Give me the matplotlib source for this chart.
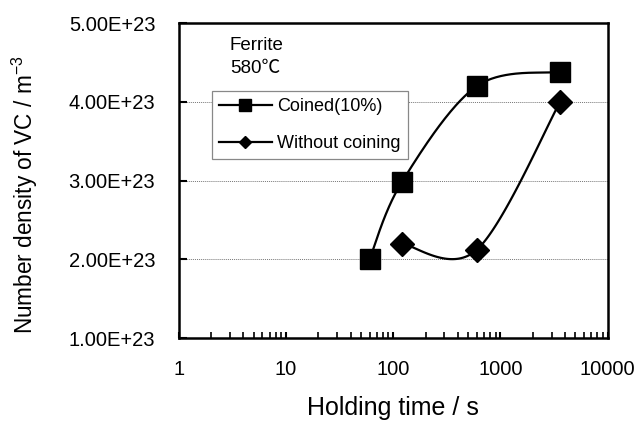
import matplotlib.pyplot as plt
from matplotlib.lines import Line2D
from matplotlib.ticker import LogLocator, FixedLocator, NullLocator
import numpy as np

plt.rcParams['font.family'] = ['Liberation Sans', 'DejaVu Sans']

coined_t = [60, 120, 600, 3600]
coined_n = [2.00e23, 2.98e23, 4.20e23, 4.38e23]
plain_t = [120, 600, 3600]
plain_n = [2.20e23, 2.12e23, 4.00e23]

y_ticks = [1e23, 2e23, 3e23, 4e23, 5e23]
y_labels = ['1.00E+23', '2.00E+23', '3.00E+23', '4.00E+23', '5.00E+23']
x_ticks = [1, 10, 100, 1000, 10000]
x_labels = ['1', '10', '100', '1000', '10000']


def smooth(xs, ys, n=60):
    # Excel-style smoothed line (Catmull-Rom bezier) in log-x space
    px = np.log10(np.array(xs, float))
    py = np.array(ys, float)
    P = np.column_stack([px, py])
    out = []
    for i in range(len(P) - 1):
        p0 = P[i - 1] if i > 0 else P[i]
        p1 = P[i]
        p2 = P[i + 1]
        p3 = P[i + 2] if i + 2 < len(P) else P[i + 1]
        c1 = p1 + (p2 - p0) / 6
        c2 = p2 - (p3 - p1) / 6
        t = np.linspace(0, 1, n)[:, None]
        seg = ((1 - t) ** 3) * p1 + 3 * ((1 - t) ** 2) * t * c1 + 3 * (1 - t) * t ** 2 * c2 + t ** 3 * p2
        out.append(seg if i == 0 else seg[1:])
    c = np.vstack(out)
    return 10 ** c[:, 0], c[:, 1]


fig = plt.figure(figsize=(6.39, 4.21), dpi=100)
ax = fig.add_axes([0.280, 0.197, 0.671, 0.748])

sx, sy = smooth(coined_t, coined_n)
ax.plot(sx, sy, color='black', lw=1.6, zorder=3)
ax.plot(coined_t, coined_n, ls='none', marker='s', ms=14, color='black', zorder=4)
sx, sy = smooth(plain_t, plain_n)
ax.plot(sx, sy, color='black', lw=1.6, zorder=3)
ax.plot(plain_t, plain_n, ls='none', marker='D', ms=12.5, color='black', zorder=4)

ax.set_xscale('log')
ax.set_xlim(1, 10000)
ax.set_ylim(1e23, 5e23)
ax.xaxis.set_major_locator(FixedLocator(x_ticks))
ax.set_xticklabels(x_labels)
ax.xaxis.set_minor_locator(LogLocator(base=10, subs=np.arange(2, 10)))
ax.set_yticks(y_ticks)
ax.set_yticklabels(y_labels)
ax.yaxis.set_minor_locator(NullLocator())

ax.tick_params(axis='y', which='major', direction='in', length=6, width=1.5,
               labelsize=14.5, pad=17)
ax.tick_params(axis='x', which='major', direction='in', length=4, width=1.5,
               labelsize=14.5, pad=16)
ax.tick_params(axis='x', which='minor', direction='in', length=4, width=1.2)
for s in ax.spines.values():
    s.set_linewidth(1.8)

for v in y_ticks[1:-1]:
    ax.axhline(v, color='#777777', lw=0.7, ls=(0, (1, 1)), zorder=1)

ax.set_xlabel('Holding time / s', fontsize=18, labelpad=12)
ax.set_ylabel('Number density of VC / m$^{\\mathregular{-3}}$', fontsize=16.3)
ax.yaxis.set_label_coords(-0.325, 0.455)

ax.text(0.119, 0.955, 'Ferrite\n580\u2103', transform=ax.transAxes, fontsize=13.5,
        va='top', ha='left', linespacing=1.4,
        family=['Liberation Sans', 'Noto Sans CJK JP', 'DejaVu Sans'])

handles = [
    Line2D([], [], color='black', lw=1.6, marker='s', ms=8.5),
    Line2D([], [], color='black', lw=1.6, marker='D', ms=6),
]
leg = ax.legend(handles, ['Coined(10%)', 'Without coining'], loc='upper left',
                bbox_to_anchor=(0.077, 0.785), fontsize=13, frameon=True,
                fancybox=False, edgecolor='#888888', framealpha=1,
                handlelength=2.9, handletextpad=0.3, borderpad=0.4,
                labelspacing=1.1, borderaxespad=0)
leg.get_frame().set_linewidth(0.9)

fig.savefig('out.png', dpi=100)
